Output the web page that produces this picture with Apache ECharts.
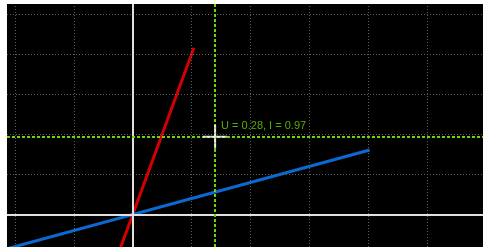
<!DOCTYPE html>
<html>
<head>
<meta charset="utf-8">
<script src="https://cdn.jsdelivr.net/npm/echarts@6/dist/echarts.min.js"></script>
<style>
    html, body { margin: 0; padding: 0; background: #fff; }
    #chart { width: 483px; height: 247px; }
</style>
</head>
<body>
<div id="chart"></div>
<script>
// visible window of the plot (U horizontal, I vertical)
const uRange = [-0.427, 1.19];
const iRange = [-0.405, 2.625];

// dotted grid positions
const gridU = [-0.4, -0.2, 0.2, 0.4, 0.6, 0.8, 1.0];
const gridI = [0.5, 1.0, 1.5, 2.0, 2.5];

// the two characteristics
const redU = [-0.06, 0.208];
const redI = [-0.6, 2.08];
const blueU = [-0.45, 0.805];
const blueI = [-0.45, 0.805];

// cursor readout
const cursorU = 0.28;
const cursorI = 0.97;

const toPoints = (xs, ys) => xs.map((x, i) => [x, ys[i]]);

const chart = echarts.init(document.getElementById('chart'));
chart.setOption({
    backgroundColor: '#fff',
    animation: false,
    grid: {
        left: 7,
        top: 4,
        right: 0,
        bottom: 0,
        show: true,
        backgroundColor: '#000',
        borderWidth: 0
    },
    xAxis: {
        type: 'value',
        min: uRange[0],
        max: uRange[1],
        axisLine: { show: false },
        axisTick: { show: false },
        axisLabel: { show: false },
        splitLine: { show: false }
    },
    yAxis: {
        type: 'value',
        min: iRange[0],
        max: iRange[1],
        axisLine: { show: false },
        axisTick: { show: false },
        axisLabel: { show: false },
        splitLine: { show: false }
    },
    series: [
        {
            // grid + zero axes
            type: 'line',
            data: [],
            silent: true,
            markLine: {
                silent: true,
                symbol: ['none', 'none'],
                label: { show: false },
                data: [
                    ...gridU.map(v => ({ xAxis: v, lineStyle: { color: '#5c5c5c', width: 1, type: [1, 2] } })),
                    ...gridI.map(v => ({ yAxis: v, lineStyle: { color: '#5c5c5c', width: 1, type: [1, 2] } })),
                    { xAxis: 0, lineStyle: { color: '#e0e0e0', width: 2, type: 'solid' } },
                    { yAxis: 0, lineStyle: { color: '#e0e0e0', width: 2, type: 'solid' } }
                ]
            }
        },
        {
            name: 'red',
            type: 'line',
            data: toPoints(redU, redI),
            symbol: 'none',
            lineStyle: { color: '#d40000', width: 3 },
            silent: true
        },
        {
            name: 'blue',
            type: 'line',
            data: toPoints(blueU, blueI),
            symbol: 'none',
            lineStyle: { color: '#0a6ad2', width: 3 },
            silent: true
        },
        {
            // cursor crosshair
            type: 'scatter',
            data: [[cursorU, cursorI]],
            symbol: 'path://M0,11H24V13H0Z M11,0H13V24H11Z',
            symbolSize: 24,
            itemStyle: { color: '#fff' },
            silent: true,
            z: 5,
            label: {
                show: true,
                position: [18, -4],
                formatter: 'U = ' + cursorU + ', I = ' + cursorI,
                color: '#6cd800',
                fontSize: 11,
                fontFamily: 'Liberation Sans, Arial, sans-serif'
            },
            markLine: {
                silent: true,
                symbol: ['none', 'none'],
                label: { show: false },
                lineStyle: { color: '#6cd800', width: 2, type: [3, 2] },
                data: [{ xAxis: cursorU }, { yAxis: cursorI }]
            }
        }
    ]
});
</script>
</body>
</html>
